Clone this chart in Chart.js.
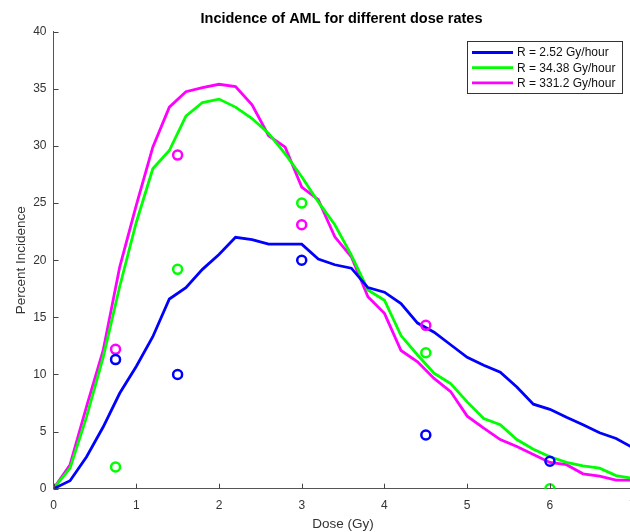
<!DOCTYPE html>
<html>
<head>
<meta charset="utf-8">
<script src="https://cdn.jsdelivr.net/npm/chart.js@4/dist/chart.umd.min.js"></script>
<style>
  html, body { margin: 0; padding: 0; background: #fff; overflow: hidden; width: 630px; height: 532px; }
  #wrap { position: absolute; left: 0; top: 0; width: 646px; height: 532px; }
</style>
</head>
<body>
<div id="wrap"><canvas id="amlChart" width="646" height="532"></canvas></div>
<script>
// model curves, sampled every 0.2 Gy
const doses = [0, 0.2, 0.4, 0.6, 0.8, 1.0, 1.2, 1.4, 1.6, 1.8, 2.0, 2.2, 2.4, 2.6, 2.8, 3.0, 3.2, 3.4,
  3.6, 3.8, 4.0, 4.2, 4.4, 4.6, 4.8, 5.0, 5.2, 5.4, 5.6, 5.8, 6.0, 6.2, 6.4, 6.6, 6.8, 7.0];
const rate252 = [0, 0.7, 2.8, 5.4, 8.35, 10.7, 13.3, 16.6, 17.6, 19.2, 20.5, 22.0, 21.8, 21.4, 21.4, 21.4, 20.1, 19.6,
  19.3, 17.6, 17.2, 16.2, 14.5, 13.7, 12.6, 11.5, 10.8, 10.2, 8.9, 7.4, 6.95, 6.25, 5.6, 4.9, 4.4, 3.6];
const rate3438 = [0, 1.8, 6.3, 11.5, 17.7, 23.3, 28.0, 29.6, 32.6, 33.8, 34.1, 33.4, 32.4, 31.1, 29.3, 27.3, 25.1, 23.1,
  20.45, 17.4, 16.5, 13.4, 11.7, 10.1, 9.2, 7.6, 6.15, 5.6, 4.3, 3.45, 2.8, 2.3, 2.0, 1.8, 1.15, 0.9];
const rate3312 = [0, 2.1, 7.2, 12.1, 19.4, 24.8, 29.9, 33.4, 34.75, 35.1, 35.4, 35.2, 33.6, 30.9, 29.9, 26.4, 25.3, 22.05,
  20.3, 16.8, 15.35, 12.1, 11.1, 9.65, 8.5, 6.35, 5.3, 4.3, 3.7, 3.0, 2.3, 2.1, 1.3, 1.1, 0.75, 0.75];

// observed points
const obsDoseBlue = [0.75, 1.5, 3, 4.5, 6];
const obsBlue = [11.3, 10.0, 20.0, 4.7, 2.4];
const obsDoseGreen = [0.75, 1.5, 3, 4.5, 6];
const obsGreen = [1.9, 19.2, 25.0, 11.9, 0.0];
const obsDoseMagenta = [0.75, 1.5, 3, 4.5];
const obsMagenta = [12.2, 29.2, 23.1, 14.3];

const seriesLabels = ['R = 2.52 Gy/hour', 'R = 34.38 Gy/hour', 'R = 331.2 Gy/hour'];
const xTicks = [0, 1, 2, 3, 4, 5, 6, 7];
const yTicks = [0, 5, 10, 15, 20, 25, 30, 35, 40];

const BLUE = '#0000ff', GREEN = '#00ff00', MAGENTA = '#ff00ff';
const FONT = '"Liberation Sans", Arial, Helvetica, sans-serif';

const pts = (xs, ys) => xs.map((x, i) => ({ x: x, y: ys[i] }));

function lineSet(label, xs, ys, color) {
  return {
    type: 'line', label: label, data: pts(xs, ys),
    borderColor: color, backgroundColor: color, borderWidth: 2.8,
    pointRadius: 0, tension: 0, fill: false, order: 2
  };
}
function obsSet(xs, ys, color) {
  return {
    type: 'scatter', label: '', data: pts(xs, ys), showLine: false,
    pointStyle: 'circle', pointRadius: 4.5, pointBorderWidth: 2.5,
    borderColor: color, pointBackgroundColor: 'rgba(0,0,0,0)', backgroundColor: 'rgba(0,0,0,0)',
    order: 1
  };
}

// title, legend box and inward ticks, matlab style
const decor = {
  id: 'decor',
  afterDraw(chart) {
    const { ctx, chartArea: a, scales } = chart;
    ctx.save();
    ctx.strokeStyle = '#444';
    ctx.lineWidth = 1;
    ctx.beginPath();
    xTicks.forEach(v => {
      const px = Math.round(scales.x.getPixelForValue(v)) + 0.5;
      ctx.moveTo(px, a.bottom); ctx.lineTo(px, a.bottom - 5);
    });
    yTicks.forEach(v => {
      const py = Math.round(scales.y.getPixelForValue(v)) + 0.5;
      ctx.moveTo(a.left, py); ctx.lineTo(a.left + 5, py);
    });
    ctx.stroke();

    ctx.fillStyle = '#000';
    ctx.font = 'bold 14.5px ' + FONT;
    ctx.textAlign = 'center';
    ctx.textBaseline = 'middle';
    ctx.fillText('Incidence of AML for different dose rates', 341.5, 19);

    // legend
    const bx = 467.5, by = 41.5, bw = 155, bh = 52;
    ctx.fillStyle = '#fff';
    ctx.fillRect(bx, by, bw, bh);
    ctx.strokeStyle = '#333';
    ctx.lineWidth = 1;
    ctx.strokeRect(bx, by, bw, bh);
    const colors = [BLUE, GREEN, MAGENTA];
    ctx.font = '12px ' + FONT;
    ctx.textAlign = 'left';
    seriesLabels.forEach((lab, i) => {
      const ry = 52.5 + i * 15.2;
      ctx.strokeStyle = colors[i];
      ctx.lineWidth = 2.8;
      ctx.beginPath();
      ctx.moveTo(472, ry); ctx.lineTo(513, ry);
      ctx.stroke();
      ctx.fillStyle = '#111';
      ctx.fillText(lab, 517, ry + 0.5);
    });
    ctx.restore();
  }
};

new Chart(document.getElementById('amlChart').getContext('2d'), {
  data: {
    datasets: [
      lineSet(seriesLabels[0], doses, rate252, BLUE),
      lineSet(seriesLabels[1], doses, rate3438, GREEN),
      lineSet(seriesLabels[2], doses, rate3312, MAGENTA),
      obsSet(obsDoseBlue, obsBlue, BLUE),
      obsSet(obsDoseGreen, obsGreen, GREEN),
      obsSet(obsDoseMagenta, obsMagenta, MAGENTA)
    ]
  },
  options: {
    responsive: false,
    animation: false,
    layout: { padding: { left: 0, right: 1, top: 31.7, bottom: 0 } },
    plugins: { legend: { display: false }, title: { display: false }, tooltip: { enabled: false } },
    scales: {
      x: {
        type: 'linear', min: 0, max: 7,
        afterBuildTicks: s => { s.ticks = xTicks.map(v => ({ value: v })); },
        afterFit: s => { s.height = 43.3; },
        grid: { display: false, drawTicks: false },
        border: { display: true, color: '#555', width: 1 },
        ticks: { color: '#333', font: { family: FONT, size: 12 }, padding: 10, maxRotation: 0 },
        title: { display: true, text: 'Dose (Gy)', color: '#333', font: { family: FONT, size: 13.5 }, padding: { top: 0, bottom: 0 } }
      },
      y: {
        type: 'linear', min: 0, max: 40,
        afterBuildTicks: s => { s.ticks = yTicks.map(v => ({ value: v })); },
        afterFit: s => { s.width = 53.5; },
        grid: { display: false, drawTicks: false },
        border: { display: true, color: '#555', width: 1 },
        ticks: { color: '#333', font: { family: FONT, size: 12 }, padding: 7 },
        title: { display: true, text: 'Percent Incidence', color: '#333', font: { family: FONT, size: 13.5 }, padding: { top: 13.5, bottom: 0 } }
      }
    }
  },
  plugins: [decor]
});
</script>
</body>
</html>
